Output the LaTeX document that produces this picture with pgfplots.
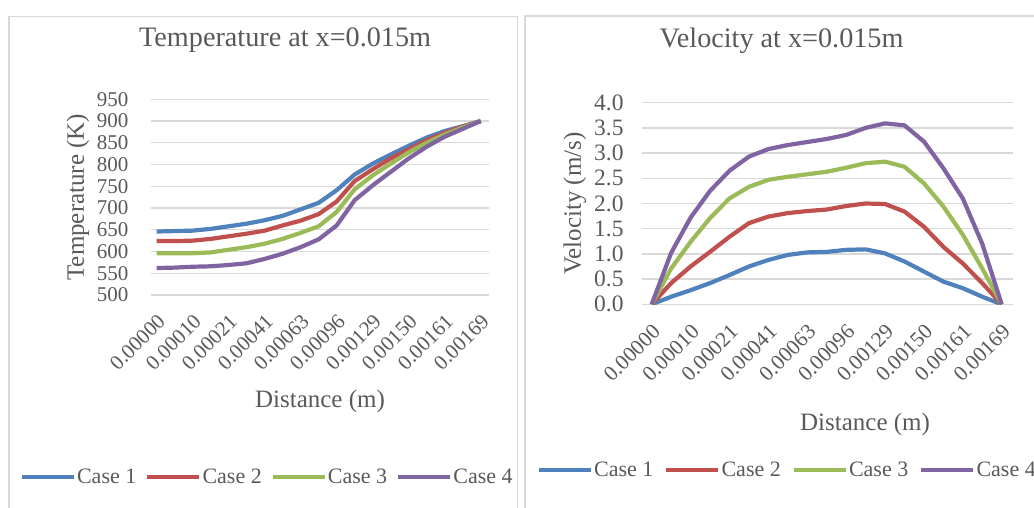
\documentclass[border=0pt]{standalone}
\usepackage{fontspec}
\setmainfont{Liberation Serif}
\usepackage{pgfplots}
\usepackage{pgfplotstable}
\pgfplotsset{compat=1.18}

\definecolor{caseA}{HTML}{4F81BD}
\definecolor{caseB}{HTML}{C0504D}
\definecolor{caseC}{HTML}{9BBB59}
\definecolor{caseD}{HTML}{8064A2}
\definecolor{txt}{HTML}{595959}
\definecolor{grd}{HTML}{D9D9D9}

% temperature (K) along the distance, 19 points
\pgfplotstableread{
i  c1  c2  c3  c4
0  646 624 596 562
1  647 624 596 563
2  648 625 596 565
3  652 629 598 566
4  658 635 604 569
5  664 641 610 573
6  672 648 618 583
7  682 660 629 595
8  697 671 643 610
9  712 686 658 628
10 741 715 691 660
11 777 762 743 718
12 802 789 775 752
13 823 814 802 783
14 843 835 828 814
15 862 856 850 841
16 877 873 869 864
17 888 887 885 882
18 900 900 900 900
}\temptable

% velocity (m/s) along the distance
\pgfplotstableread{
i  c1   c2   c3   c4
0  0    0    0    0
1  0.15 0.42 0.71 1.02
2  0.28 0.75 1.24 1.72
3  0.42 1.04 1.71 2.25
4  0.58 1.34 2.10 2.65
5  0.75 1.61 2.33 2.93
6  0.88 1.74 2.47 3.08
7  0.98 1.81 2.53 3.16
8  1.03 1.85 2.58 3.22
9  1.04 1.88 2.63 3.28
10 1.08 1.95 2.71 3.36
11 1.09 2.00 2.80 3.50
12 1.01 1.99 2.83 3.59
13 0.85 1.84 2.73 3.55
14 0.65 1.54 2.40 3.23
15 0.45 1.14 1.94 2.70
16 0.32 0.81 1.38 2.10
17 0.15 0.42 0.71 1.20
18 0    0    0    0
}\veltable

\pgfplotsset{
  panel/.style={
    scale only axis,
    axis line style={draw=none},
    major tick length=0pt,
    ymajorgrids,
    major grid style={grd, line width=1.3pt},
    xtick={0,2,...,18},
    xticklabels={0.00000,0.00010,0.00021,0.00041,0.00063,0.00096,0.00129,0.00150,0.00161,0.00169},
    /pgf/number format/assume math mode=true,
    y tick label style={text=txt, inner sep=0pt},
    label style={font=\fontsize{25}{25}\selectfont, text=txt},
    title style={font=\fontsize{28.2}{29}\selectfont, text=txt, anchor=base},
    legend columns=4,
    legend image code/.code={\draw[#1] (0pt,0pt) -- (52pt,0pt);},
    legend style={draw=none, fill=none, inner sep=0pt, anchor=west,
      font=\fontsize{22}{22}\selectfont, text=txt,
      nodes={inner sep=1pt}},
    every axis plot/.append style={line width=4.2pt, line join=round},
  },
}

\begin{document}
\begin{tikzpicture}
\useasboundingbox (0,0) rectangle (1034pt,507pt);
\clip (0,0) rectangle (1034pt,507pt);
% chart frames
\draw[grd, line width=1.3pt] (9pt,-5pt) -- (9pt,490.5pt) -- (517.5pt,490.5pt) -- (517.5pt,-5pt);
\draw[grd, line width=1.3pt] (525pt,-5pt) -- (525pt,491pt) -- (1040pt,491pt);

\begin{axis}[panel,
  at={(150.7pt,212pt)}, anchor=south west,
  width=338.6pt, height=195.7pt,
  xmin=-0.333, xmax=18.48, ymin=500, ymax=950,
  ytick={500,550,...,950},
  y tick label style={font=\fontsize{21}{21}\selectfont, xshift=-22pt},
  x tick label style={font=\fontsize{21}{21}\selectfont, text=txt, inner sep=0pt,
    xshift=5pt, yshift=-23pt, rotate=45, anchor=east},
  title={Temperature at x=0.015m},
  title style={at={(axis description cs:0.397,1.237)}},
  xlabel={Distance (m)},
  xlabel style={at={(axis description cs:0.5,-0.542)}, anchor=center},
  ylabel={Temperature (K)},
  ylabel style={at={(axis description cs:-0.215,0.5)}, anchor=center},
  legend style={at={(axis description cs:-0.387,-0.93)},
    /tikz/every even column/.append style={column sep=8pt}},
]
\addplot[caseA] table[x=i, y=c1] {\temptable};
\addlegendentry{Case 1}
\addplot[caseB] table[x=i, y=c2] {\temptable};
\addlegendentry{Case 2}
\addplot[caseC] table[x=i, y=c3] {\temptable};
\addlegendentry{Case 3}
\addplot[caseD] table[x=i, y=c4] {\temptable};
\addlegendentry{Case 4}
\end{axis}

\begin{axis}[panel,
  at={(641.7pt,202.7pt)}, anchor=south west,
  width=371pt, height=201.6pt,
  xmin=-0.514, xmax=18.566, ymin=0, ymax=4,
  ytick={0,0.5,...,4},
  yticklabel style={/pgf/number format/fixed, /pgf/number format/fixed zerofill,
    /pgf/number format/precision=1},
  y tick label style={font=\fontsize{23.5}{23.5}\selectfont, xshift=-18pt},
  x tick label style={font=\fontsize{21.5}{21.5}\selectfont, text=txt, inner sep=0pt,
    xshift=5pt, yshift=-24pt, rotate=45, anchor=east},
  title={Velocity at x=0.015m},
  title style={at={(axis description cs:0.377,1.246)}},
  xlabel={Distance (m)},
  xlabel style={at={(axis description cs:0.602,-0.597)}, anchor=center},
  ylabel={Velocity (m/s)},
  ylabel style={at={(axis description cs:-0.18,0.5)}, anchor=center},
  legend style={at={(axis description cs:-0.283,-0.822)},
    /tikz/every even column/.append style={column sep=10pt}},
]
\addplot[caseA] table[x=i, y=c1] {\veltable};
\addlegendentry{Case 1}
\addplot[caseB] table[x=i, y=c2] {\veltable};
\addlegendentry{Case 2}
\addplot[caseC] table[x=i, y=c3] {\veltable};
\addlegendentry{Case 3}
\addplot[caseD] table[x=i, y=c4] {\veltable};
\addlegendentry{Case 4}
\end{axis}
\end{tikzpicture}
\end{document}
